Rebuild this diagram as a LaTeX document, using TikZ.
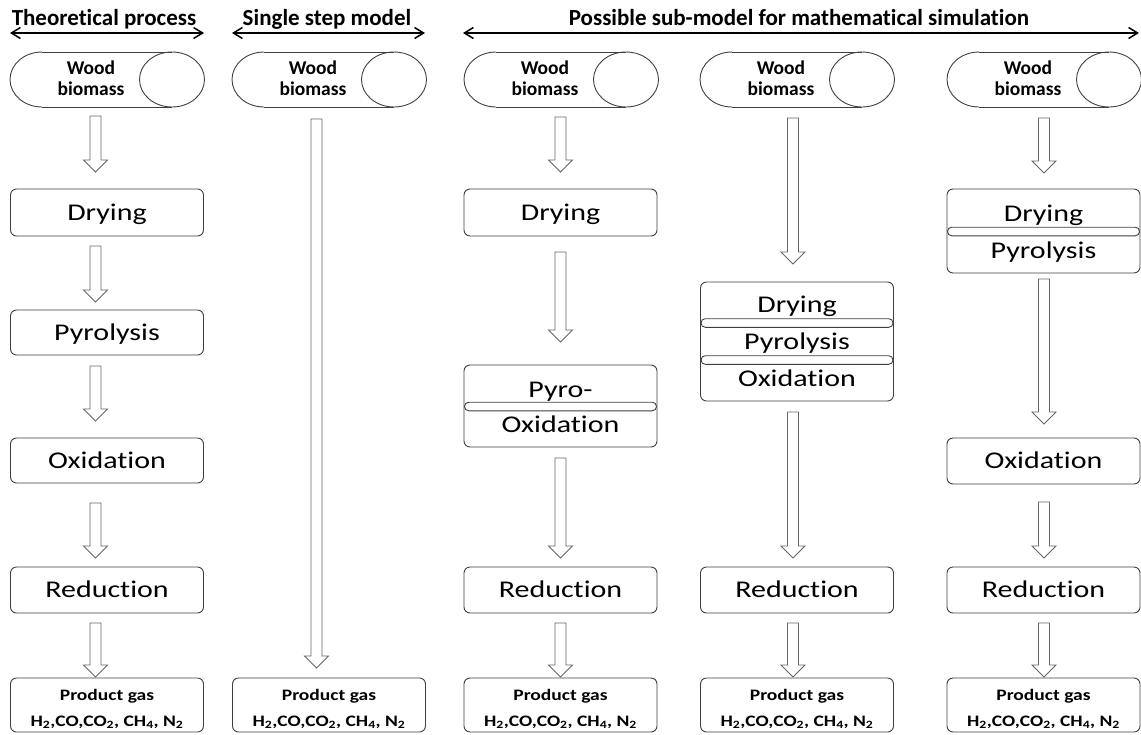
\documentclass[tikz,border=0pt]{standalone}
\usepackage{fontspec}
\usetikzlibrary{arrows.meta}
\setmainfont{Carlito}[Ligatures=NoCommon]
\newfontfamily\lblfont{Carlito}[FakeStretch=1.25, Ligatures=NoCommon]
\newfontfamily\prodfont{Carlito}[FakeStretch=1.22, Ligatures=NoCommon]
\begin{document}
\begin{tikzpicture}[x=1pt,y=-1pt]
\useasboundingbox (0,0) rectangle (1141,734);
\tikzset{
 stage/.style={draw=black!75, line width=0.9pt, rounded corners=6pt, minimum width=193pt, inner sep=0pt, fill=white},
 lbl/.style={font=\lblfont\fontsize{24}{28}\selectfont, anchor=base, inner sep=0pt},
 prod/.style={font=\prodfont\bfseries\fontsize{16}{19}\selectfont, anchor=base, inner sep=0pt},
 wood/.style={font=\bfseries\fontsize{19.5}{22}\selectfont, anchor=base, inner sep=0pt},
 ttl/.style={font=\bfseries\fontsize{23}{27}\selectfont, anchor=base, inner sep=0pt},
 pill/.style={draw=black!75, line width=0.9pt, fill=white, rounded corners=4.2pt, minimum width=192pt, minimum height=8.6pt, inner sep=0pt},
 barrow/.style={draw=black!60, line width=0.8pt, fill=white},
 cyl/.style={draw=black!75, line width=0.9pt},
 hdr/.style={line width=1.5pt, {Straight Barb[length=9pt,width=11pt]}-{Straight Barb[length=9pt,width=11pt]}}
}
\newcommand\stagebox[4]{\node[stage, minimum height={(#4)-(#3)}] (#1) at (#2,{((#3)+(#4))/2}) {};}
\newcommand\single[5]{\stagebox{#1}{#2}{#3}{#4}\node[lbl] (#1t) at (#2,{((#3)+(#4))/2+7.8}) {#5};}
\newcommand\prodbox[2]{\stagebox{#1}{#2}{678}{732}
 \node[prod] (#1a) at (#2,700) {Product gas};
 \node[prod] (#1b) at (#2,726) {H\textsubscript{2},CO,CO\textsubscript{2}, CH\textsubscript{4}, N\textsubscript{2}};}
\newcommand\blkarrow[4]{\coordinate (#1) at (#2,#4);
 \draw[barrow] (#2-5.5,#3) -- (#2+5.5,#3) -- (#2+5.5,#4-12) -- (#2+12,#4-12) -- (#1) -- (#2-12,#4-12) -- (#2-5.5,#4-12) -- cycle;}
\newcommand\woodcyl[2]{%
 \begin{scope}\clip (#2-3,46) rectangle (#2+32,113);
 \draw[cyl] (#2+32,79.5) ellipse [x radius=32, y radius=27.5];\end{scope}
 \draw[cyl] (#2+32,52) -- (#2+162,52) (#2+32,107) -- (#2+162,107);
 \draw[cyl] (#2+162,79.5) ellipse [x radius=32.5, y radius=27.5];
 \node[wood] (#1a) at (#2+81,74) {Wood};
 \node[wood] (#1b) at (#2+81,95) {biomass};}

% headers
\node[ttl] (t1) at (104,25) {Theoretical process};
\node[ttl] (t2) at (327,25) {Single step model};
\node[ttl] (t3) at (799,25) {Possible sub-model for mathematical simulation};
\coordinate (h1l) at (10,33); \coordinate (h1r) at (204,33);
\coordinate (h2l) at (232,33); \coordinate (h2r) at (425,33);
\coordinate (h3l) at (463,33); \coordinate (h3r) at (1139,33);
\draw[hdr] (h1l) -- (h1r);
\draw[hdr] (h2l) -- (h2r);
\draw[hdr] (h3l) -- (h3r);

% cylinders
\woodcyl{w1}{10}
\woodcyl{w2}{232}
\woodcyl{w3}{464}
\woodcyl{w4}{700}
\woodcyl{w5}{947}

% column 1
\single{a1}{107}{189}{236}{Drying}
\single{a2}{107}{310}{355}{Pyrolysis}
\single{a3}{107}{438}{483}{Oxidation}
\single{a4}{107}{567}{613}{Reduction}
\prodbox{a5}{107}
\blkarrow{ar1}{95.5}{116}{172}
\blkarrow{ar2}{95.5}{246}{302}
\blkarrow{ar3}{95.5}{366}{421}
\blkarrow{ar4}{95.5}{503}{558}
\blkarrow{ar5}{95.5}{623}{677}

% column 2
\prodbox{b5}{329}
\blkarrow{br1}{316.5}{119}{668}

% column 3
\single{c1}{560.5}{189}{236}{Drying}
\stagebox{c2}{560.5}{365}{447}
\node[pill] (c2p) at (560.5,406.5) {};
\node[lbl] (c2a) at (560.5,397) {Pyro-};
\node[lbl] (c2b) at (560.5,432.5) {Oxidation};
\single{c4}{560.5}{567}{613}{Reduction}
\prodbox{c5}{560.5}
\blkarrow{cr1}{560.5}{117}{172}
\blkarrow{cr2}{560.5}{252}{342}
\blkarrow{cr3}{560.5}{458}{558}
\blkarrow{cr4}{560.5}{623}{677}

% column 4
\stagebox{d2}{797}{282}{401}
\node[pill] (d2p) at (797,323) {};
\node[pill] (d2q) at (797,360) {};
\node[lbl] (d2a) at (797,312) {Drying};
\node[lbl] (d2b) at (797,349.5) {Pyrolysis};
\node[lbl] (d2c) at (797,386.5) {Oxidation};
\single{d4}{797}{567}{613}{Reduction}
\prodbox{d5}{797}
\blkarrow{dr1}{793}{118}{264}
\blkarrow{dr2}{793}{412}{558}
\blkarrow{dr3}{793}{623}{677}

% column 5
\stagebox{e2}{1043.5}{189}{273}
\node[pill] (e2p) at (1043.5,231.5) {};
\node[lbl] (e2a) at (1043.5,221) {Drying};
\node[lbl] (e2b) at (1043.5,258) {Pyrolysis};
\single{e3}{1043.5}{438}{484}{Oxidation}
\single{e4}{1043.5}{567}{613}{Reduction}
\prodbox{e5}{1043.5}
\blkarrow{er1}{1044}{118}{173}
\blkarrow{er2}{1044}{279}{424}
\blkarrow{er3}{1044}{502}{558}
\blkarrow{er4}{1044}{623}{677}
\end{tikzpicture}
\end{document}
